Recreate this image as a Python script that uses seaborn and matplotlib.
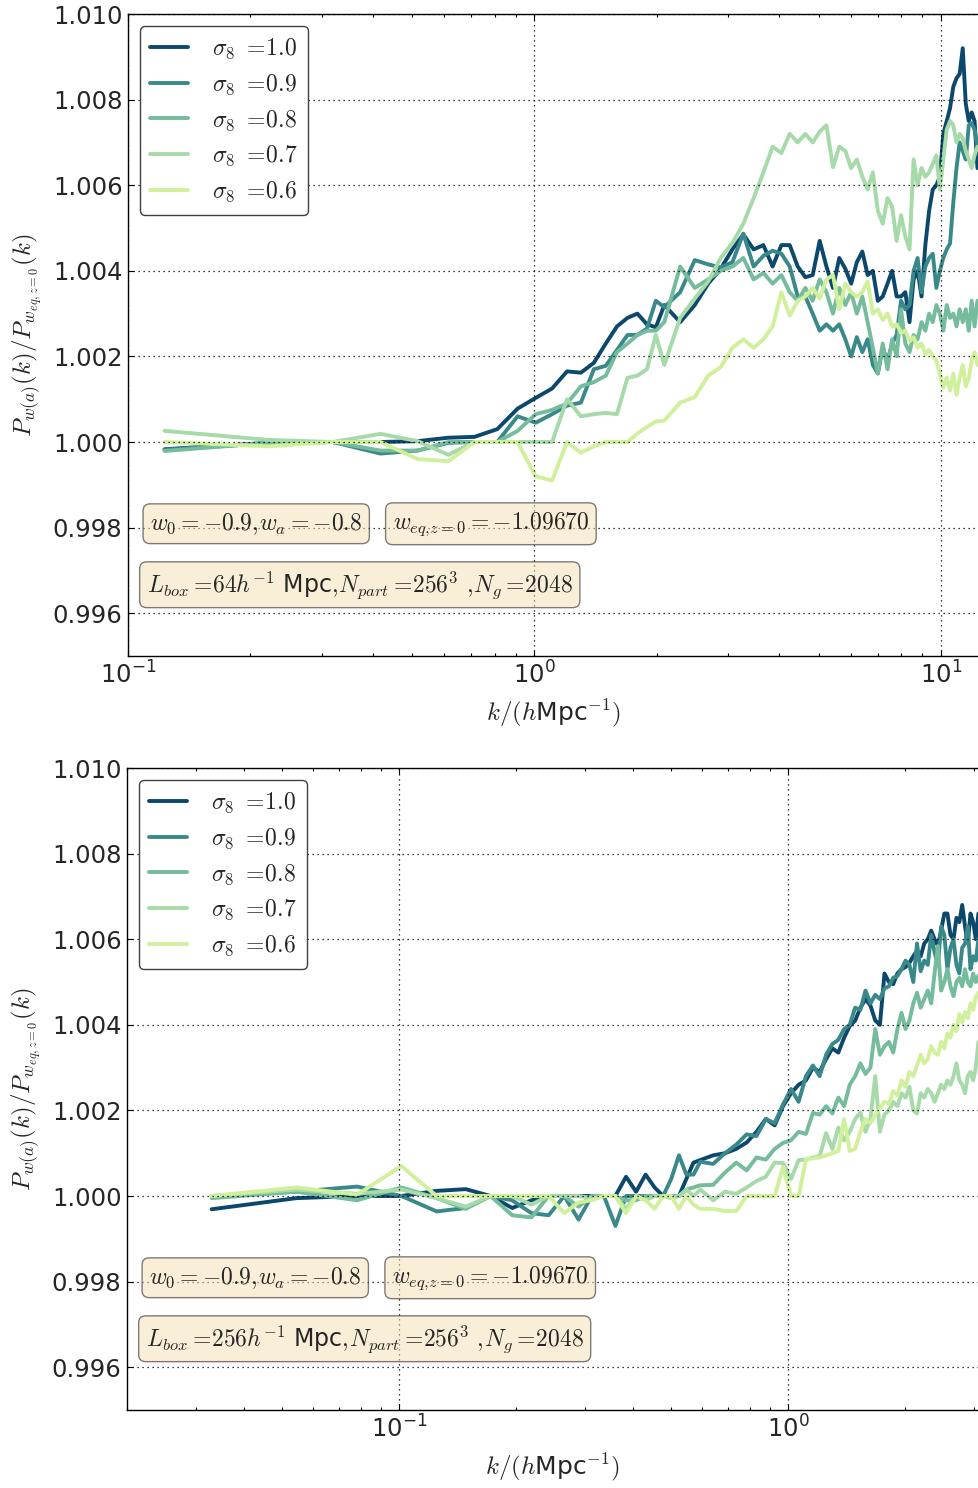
import numpy as np
import pandas as pd
import matplotlib
matplotlib.use("Agg")
import matplotlib.pyplot as plt
import seaborn as sns
from matplotlib.ticker import FormatStrFormatter

sns.set_style("ticks")
plt.rcParams["font.family"] = ["DejaVu Sans"]
plt.rcParams["mathtext.fontset"] = "cm"
plt.rcParams["axes.unicode_minus"] = False

sigma_vals = ["1.0", "0.9", "0.8", "0.7", "0.6"]
line_colors = ["#0c486c", "#3a898a", "#74bc9b", "#a6daa8", "#d1f09b"]

# ---- top panel: L_box = 64 Mpc/h ; values are (P_w/P_eq - 1) * 1000
top_k = [0.123, 0.221, 0.319, 0.418, 0.516, 0.614, 0.712, 0.810, 0.909, 1.007,
         1.105, 1.203, 1.301, 1.400, 1.498, 1.596, 1.694, 1.792, 1.891, 1.989,
         2.087, 2.283, 2.480, 2.676, 2.873, 3.069, 3.265, 3.462, 3.658, 3.855,
         4.051, 4.247, 4.444, 4.640, 4.837, 5.033, 5.229, 5.426, 5.622, 5.819,
         6.015, 6.211, 6.408, 6.604, 6.801, 6.997, 7.193, 7.390, 7.586, 7.783,
         7.979, 8.175, 8.372, 8.568, 8.765, 8.961, 9.157, 9.354, 9.550, 9.747,
         9.943, 10.139, 10.336, 10.532, 10.729, 10.925, 11.121, 11.318, 11.514,
         11.711, 11.907, 12.103, 12.300]

top_s10 = [-0.17, -0.02, 0.0, 0.0, 0.02, 0.1, 0.12, 0.3, 0.78, 1.03, 1.25, 1.65,
           1.62, 1.85, 2.3, 2.7, 2.9, 3.0, 2.75, 2.68, 3.2,
           2.8, 3.2, 3.7, 4.05, 4.5, 4.85, 4.5, 4.6, 4.1, 4.6,
           4.6, 4.1, 3.85, 3.9, 4.7, 4.1, 3.6, 4.3, 4.05, 3.7,
           4.2, 4.45, 3.9, 4.0, 3.3, 3.4, 3.7, 4.0, 3.4, 3.4,
           3.5, 2.8, 3.8, 4.0, 3.4, 4.6, 5.4, 5.9, 6.0, 6.2,
           7.2, 7.5, 7.8, 8.3, 8.5, 8.6, 9.2, 7.9, 7.5, 7.7,
           7.5, 6.4]
top_s09 = [-0.18, -0.03, 0.0, -0.27, -0.2, -0.02, 0.0, 0.0, 0.6, 0.45, 0.65, 0.85,
           0.92, 1.7, 1.78, 2.15, 2.5, 2.5, 2.65, 3.3, 3.15,
           3.5, 4.25, 4.15, 4.08, 4.2, 4.87, 4.1, 4.35, 4.47, 4.4,
           4.1, 3.4, 3.4, 3.0, 2.6, 2.75, 2.6, 2.75, 2.4, 2.0,
           2.45, 2.1, 2.4, 1.8, 1.6, 2.2, 1.9, 2.3, 2.5, 3.3,
           3.1, 3.2, 4.0, 4.3, 3.5, 4.1, 4.3, 4.4, 3.6, 4.0,
           4.3, 4.5, 4.64, 5.6, 6.4, 7.0, 6.8, 6.6, 7.4, 7.45,
           7.3, 6.9]
top_s08 = [-0.21, -0.02, 0.0, -0.2, -0.2, 0.0, 0.0, 0.0, 0.26, 0.65, 0.75, 0.9,
           1.3, 1.4, 1.55, 2.1, 2.3, 2.5, 2.6, 2.6, 2.8,
           4.1, 3.6, 3.8, 4.0, 4.1, 4.3, 3.8, 3.95, 3.7, 3.9,
           3.5, 3.3, 3.6, 3.3, 3.8, 3.5, 3.0, 3.6, 3.2, 3.5,
           3.0, 3.4, 2.8, 2.2, 1.6, 2.3, 1.7, 2.4, 2.0, 3.1,
           2.3, 2.1, 2.5, 2.4, 2.8, 2.6, 3.0, 2.8, 3.2, 3.0,
           2.6, 3.2, 2.9, 3.0, 2.7, 3.1, 2.8, 3.1, 2.6, 3.3,
           2.7, 3.3]
top_s07 = [0.26, 0.05, 0.0, 0.19, 0.02, -0.3, 0.0, 0.0, 0.0, 0.0, 0.0, 1.0,
           0.6, 0.65, 0.68, 0.65, 1.5, 1.55, 1.7, 2.5, 1.8,
           2.9, 3.35, 3.75, 4.3, 4.65, 5.1, 5.7, 6.3, 6.9, 6.75,
           7.2, 7.0, 7.2, 7.0, 7.25, 7.4, 6.42, 6.9, 6.8, 6.4,
           6.6, 6.2, 5.9, 6.3, 5.4, 5.1, 5.7, 5.5, 4.7, 5.3,
           4.8, 4.5, 6.6, 6.0, 6.4, 6.2, 6.3, 6.5, 6.7, 5.9,
           6.6, 7.3, 7.5, 7.4, 7.0, 7.2, 7.1, 6.8, 6.6, 6.4,
           6.7, 6.9]
top_s06 = [0.0, -0.1, 0.0, 0.0, -0.4, -0.45, 0.0, 0.0, 0.0, -0.8, -0.9, 0.0,
           -0.25, -0.1, 0.0, 0.0, 0.0, 0.2, 0.35, 0.48, 0.5,
           0.92, 1.05, 1.55, 1.75, 2.2, 2.4, 2.2, 2.4, 2.7, 3.5,
           2.95, 3.3, 3.4, 3.6, 3.35, 3.8, 3.9, 3.1, 3.7, 3.5,
           3.4, 3.5, 3.75, 3.0, 3.1, 2.85, 3.0, 2.7, 2.75, 2.55,
           2.6, 2.35, 2.45, 2.2, 2.3, 2.05, 2.15, 2.0, 1.9, 1.6,
           1.27, 1.5, 1.2, 1.6, 1.1, 1.5, 1.8, 1.3, 1.5, 1.9,
           2.1, 1.8]

# ---- bottom panel: L_box = 256 Mpc/h
bot_k = [0.033, 0.0545, 0.078, 0.1015, 0.125, 0.1485, 0.172, 0.1955, 0.219,
         0.2425, 0.266, 0.2895, 0.313, 0.3365, 0.360, 0.3835, 0.407, 0.4305,
         0.454, 0.4775, 0.501, 0.5245, 0.548, 0.5715,
         0.595, 0.642, 0.689, 0.736, 0.783, 0.830, 0.877, 0.924, 0.971, 1.018,
         1.065, 1.112, 1.159, 1.206, 1.253, 1.300, 1.347, 1.394, 1.441, 1.488,
         1.535, 1.582, 1.629, 1.676, 1.723, 1.770, 1.817, 1.864, 1.911, 1.958,
         2.005, 2.052, 2.099, 2.146, 2.193, 2.240, 2.287, 2.334, 2.381, 2.428,
         2.475, 2.522, 2.569, 2.616, 2.663, 2.710, 2.757, 2.804, 2.851, 2.898,
         2.945, 2.992, 3.039, 3.086]

bot_s10 = [-0.31, -0.05, 0.0, 0.0, 0.12, 0.16, 0.0, -0.28, -0.1, 0.0, 0.0, 0.0,
           0.0, 0.0, 0.0, 0.45, 0.1, 0.5, 0.2, 0.0, 0.0, 0.0, 0.4, 0.78,
           0.84, 0.95, 1.0, 1.1, 1.25, 1.5, 1.8, 1.65, 2.1, 2.4,
           2.6, 2.7, 3.0, 2.9, 3.2, 3.45, 3.35, 3.7, 3.97, 4.1,
           4.4, 4.6, 4.45, 4.1, 4.0, 5.2, 5.0, 4.95, 5.2, 5.3,
           5.35, 5.45, 5.6, 5.73, 5.6, 5.9, 6.0, 6.2, 6.0, 5.85,
           6.2, 6.6, 6.6, 6.1, 6.0, 6.5, 6.4, 6.8, 6.3, 5.9,
           6.6, 6.4, 6.0, 6.6]
bot_s09 = [0.0, 0.1, 0.22, 0.0, -0.36, -0.28, 0.0, -0.1, -0.4, -0.45, 0.0, -0.55,
           0.0, 0.0, -0.7, 0.0, 0.0, 0.0, 0.0, 0.0, 0.4, 0.95, 0.5, 0.5,
           0.8, 0.75, 1.0, 1.2, 1.44, 1.4, 1.8, 1.7, 2.14, 2.5,
           2.2, 2.8, 3.05, 2.8, 3.3, 3.55, 3.65, 3.9, 4.0, 4.4,
           4.35, 4.8, 4.5, 4.7, 4.6, 4.85, 4.9, 5.1, 5.14, 5.3,
           5.5, 5.4, 5.0, 5.9, 5.25, 5.5, 5.4, 6.1, 5.7, 5.4,
           6.3, 6.1, 5.3, 5.8, 6.0, 5.4, 5.2, 5.8, 5.9, 6.3,
           5.3, 5.6, 5.5, 6.0]
bot_s08 = [-0.05, 0.1, -0.1, 0.2, -0.05, -0.3, 0.0, -0.45, -0.5, 0.0, 0.0, -0.25,
           0.0, 0.0, 0.0, -0.1, -0.1, 0.0, 0.0, 0.0, 0.0, 0.0, 0.15, 0.2,
           0.25, 0.26, 0.55, 0.78, 0.6, 0.9, 0.85, 1.1, 1.24, 1.3,
           1.5, 1.45, 1.94, 1.9, 2.1, 1.93, 2.3, 2.1, 2.6, 2.8,
           3.1, 2.85, 3.0, 3.9, 3.3, 3.5, 3.6, 3.35, 3.9, 4.28,
           3.9, 4.1, 4.5, 4.75, 4.4, 4.6, 4.8, 4.5, 5.2, 5.84,
           4.8, 5.0, 5.3, 4.9, 4.67, 5.0, 5.1, 4.9, 5.3, 5.0,
           4.9, 5.2, 5.0, 5.15]
bot_s07 = [0.0, 0.15, 0.05, 0.15, -0.05, -0.25, 0.0, 0.0, -0.2, 0.0, 0.0, 0.0,
           -0.05, 0.0, 0.0, -0.3, 0.0, -0.1, 0.0, 0.0, -0.05, 0.0, 0.15, 0.0,
           0.15, -0.1, 0.1, 0.05, 0.2, 0.35, 0.45, 0.78, 0.77, 0.4,
           0.84, 0.85, 0.9, 0.93, 1.47, 1.1, 1.6, 1.3, 1.5, 1.8,
           1.95, 1.5, 1.8, 2.8, 1.5, 1.9, 2.0, 2.2, 2.1, 2.4,
           2.3, 2.55, 2.0, 1.93, 2.4, 2.3, 2.5, 2.4, 2.2, 2.4,
           2.6, 2.5, 2.7, 2.6, 2.8, 3.1, 2.7, 2.6, 2.4, 2.8,
           2.9, 2.7, 3.0, 3.6]
bot_s06 = [0.0, 0.2, 0.03, 0.7, 0.0, 0.0, 0.0, 0.0, 0.0, 0.0, -0.4, -0.15,
           -0.1, 0.0, 0.0, -0.4, 0.0, -0.1, -0.3, 0.0, 0.0, -0.3, 0.0, -0.2,
           -0.3, -0.3, -0.35, -0.35, 0.0, 0.0, 0.0, 0.0, 0.68, 0.0,
           0.0, 0.85, 0.88, 0.9, 0.95, 1.0, 1.05, 1.8, 1.05, 1.1,
           1.5, 1.8, 1.7, 1.9, 2.05, 2.2, 2.15, 2.45, 2.35, 2.7,
           2.55, 2.9, 2.8, 3.05, 3.3, 3.1, 3.2, 3.5, 3.35, 3.3,
           3.6, 3.45, 3.8, 3.7, 4.0, 3.85, 4.25, 4.05, 4.3, 4.15,
           4.5, 4.35, 4.65, 4.75]

y_ticks = [0.996, 0.998, 1.000, 1.002, 1.004, 1.006, 1.008, 1.010]

box_props = dict(boxstyle="round,pad=0.3", facecolor="wheat", edgecolor="k",
                 linewidth=1.0, alpha=0.5)


def make_df(k, series):
    rows = []
    for s, dev in zip(sigma_vals, series):
        for kk, d in zip(k, dev):
            rows.append((kk, 1.0 + d * 1e-3, s))
    return pd.DataFrame(rows, columns=["k", "ratio", "sigma"])


def draw_panel(ax, k, series, xlim, lbox):
    df = make_df(k, series)
    sns.lineplot(data=df, x="k", y="ratio", hue="sigma", hue_order=sigma_vals,
                 palette=line_colors, lw=2.8, estimator=None, sort=False,
                 legend=False, ax=ax)
    ax.set_xscale("log")
    ax.set_xlim(*xlim)
    ax.set_ylim(0.995, 1.010)
    ax.set_yticks(y_ticks)
    ax.yaxis.set_major_formatter(FormatStrFormatter("%.3f"))
    ax.tick_params(which="both", direction="in", top=True, right=False,
                   labelsize=17.5, pad=4, width=0.8, color="k")
    ax.tick_params(which="major", length=4.5)
    ax.tick_params(which="minor", length=2.5)
    ax.yaxis.set_minor_locator(plt.NullLocator())
    for side in ["left", "top", "bottom"]:
        ax.spines[side].set_color("k")
        ax.spines[side].set_linewidth(1.0)
    ax.spines["right"].set_visible(False)
    ax.grid(True, which="major", color="k", linestyle=(0, (1, 3)), linewidth=0.9)
    ax.set_axisbelow(False)

    ax.set_xlabel(r"$k/(h$Mpc$^{-1})$", fontsize=18, labelpad=6)
    ax.set_ylabel(r"$P_{w(a)}(k)/P_{w_{eq,z=0}}(k)$", fontsize=18, labelpad=6)

    labels = [r"$\sigma_8$ $=\!" + s + "$" for s in sigma_vals]
    leg = ax.legend(ax.lines[:5], labels, loc="upper left", fontsize=17,
                    handlelength=1.6, handletextpad=1.0, labelspacing=0.45,
                    borderpad=0.45, fancybox=True, framealpha=1.0)
    leg.get_frame().set_edgecolor("0.25")
    leg.get_frame().set_linewidth(1.0)

    ax.text(0.026, 0.206, r"$w_0={-}0.9,\!w_a={-}0.8$",
            transform=ax.transAxes, fontsize=17, va="center", ha="left",
            bbox=box_props)
    ax.text(0.311, 0.206, r"$w_{eq,\!z=0}={-}1.09670$",
            transform=ax.transAxes, fontsize=17, va="center", ha="left",
            bbox=box_props)
    ax.text(0.022, 0.111,
            r"$L_{box}=\!" + lbox + r"h^{-1}$ Mpc$,\!N_{part}=\!256^3$ $,\!N_g=\!2048$",
            transform=ax.transAxes, fontsize=17, va="center", ha="left",
            bbox=box_props)


fig = plt.figure(figsize=(9.79, 14.88), dpi=100)
ax_top = fig.add_axes([128 / 979, 1 - 656 / 1488, 1 - 128 / 979, 642 / 1488])
ax_bot = fig.add_axes([127 / 979, 1 - 1410 / 1488, 1 - 127 / 979, 642 / 1488])

draw_panel(ax_top, top_k, [top_s10, top_s09, top_s08, top_s07, top_s06],
           (0.1, 12.41), "64")
draw_panel(ax_bot, bot_k, [bot_s10, bot_s09, bot_s08, bot_s07, bot_s06],
           (0.02, 3.097), "256")

fig.savefig("out.png", dpi=100)
